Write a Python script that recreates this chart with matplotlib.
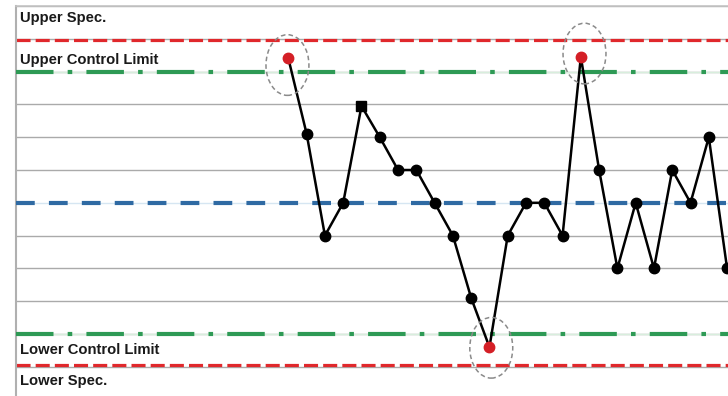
import numpy as np
import matplotlib.pyplot as plt
from matplotlib.patches import Ellipse

# ---- data (in sigma units, centre line = 0) ----
sample_idx = np.arange(25)
values = [4.4, 2.1, -1.0, 0.0, 2.95, 2.0, 1.0, 1.0, 0.0, -1.0, -2.9, -4.4,
          -1.0, 0.0, 0.0, -1.0, 4.45, 1.0, -2.0, 0.0, -2.0, 1.0, 0.0, 2.0, -2.0]
out_of_control = [0, 11, 16]
square_points = [4]

center_line = 0.0
ucl, lcl = 4.0, -4.0
usl, lsl = 4.95, -4.95
grid_levels = [-5, -4, -3, -2, -1, 1, 2, 3, 4, 5, 6]

# circled points: (x, y) centres of the dashed ellipses
circle_centres = [(-0.05, 4.2), (16.2, 4.55), (11.1, -4.42)]

labels = ["Upper Spec.", "Upper Control Limit", "Lower Control Limit", "Lower Spec."]
label_y = [5.62, 4.35, -4.5, -5.42]

fig = plt.figure(figsize=(7.28, 3.96), dpi=100)
ax = fig.add_axes([16 / 728, 0.0, 1 - 16 / 728, 390 / 396])

ax.set_xlim(-14.9, 24.05)
ax.set_ylim(-5.89, 6.0)

# horizontal grid
for g in grid_levels:
    ax.axhline(g, color="#aaaaaa", lw=1.0, zorder=1)

# spec limits (red)
for y in (usl, lsl):
    ax.axhline(y, color="#e0282c", lw=2.3, dashes=(4.4, 1.6), zorder=2)

# control limits (green, long dash - dot)
for y in (ucl, lcl):
    ax.axhline(y, color="#d8eedd", lw=1.0, zorder=2)
    ax.axhline(y, color="#2e9a55", lw=3.0, dashes=(9, 3.4, 1.1, 3.4), zorder=3)

# centre line (blue dashed)
ax.axhline(center_line, color="#d6e6f2", lw=1.0, zorder=2)
ax.axhline(center_line, color="#2f6aa3", lw=3.0, dashes=(4.5, 3.4), zorder=3)

# the measurement series
ax.plot(sample_idx, values, color="black", lw=1.8, zorder=4)
normal = [i for i in sample_idx if i not in out_of_control and i not in square_points]
ax.plot(sample_idx[normal], np.array(values)[normal], "o", color="black",
        ms=7.5, zorder=5)
ax.plot(sample_idx[square_points], np.array(values)[square_points], "s",
        color="black", ms=7, zorder=5)
ax.plot(sample_idx[out_of_control], np.array(values)[out_of_control], "o",
        color="#d41f26", ms=7.5, zorder=6)

for cx, cy in circle_centres:
    ax.add_patch(Ellipse((cx, cy), 2.35, 1.85, fill=False, ec="#8a8a8a",
                         lw=1.1, ls=(0, (3, 2)), zorder=6))

# limit labels
for txt, y in zip(labels, label_y):
    ax.text(0.006, y, txt, transform=ax.get_yaxis_transform(), fontsize=10.6,
            fontweight="bold", family="Liberation Sans", color="#1a1a1a",
            va="center", ha="left", zorder=7)

ax.set_xticks([])
ax.set_yticks([])
for side in ("right", "bottom"):
    ax.spines[side].set_visible(False)
ax.spines["left"].set_color("#b0b0b0")
ax.spines["left"].set_linewidth(1.5)
ax.spines["top"].set_color("#c4c4c4")
ax.spines["top"].set_linewidth(1.2)

fig.savefig("out.png", dpi=100)
